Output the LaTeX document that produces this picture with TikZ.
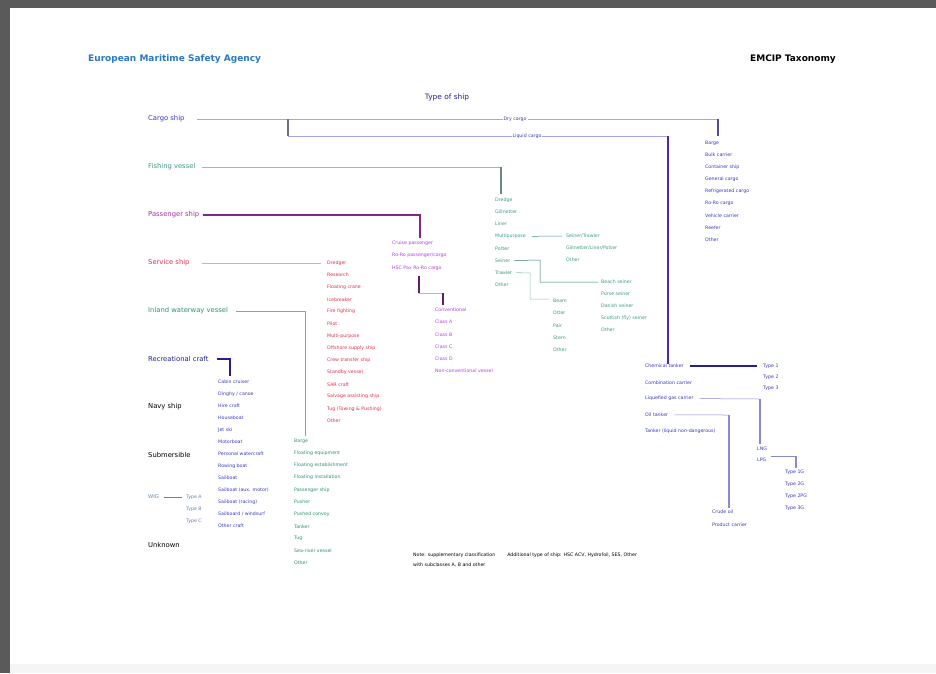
\documentclass[tikz,border=0pt]{standalone}
\usepackage{fontspec}
\setmainfont{DejaVu Sans}
\usetikzlibrary{calc}
\definecolor{agency}{HTML}{2A78C6}
\definecolor{cargo}{HTML}{3A3AC0}
\definecolor{fish}{HTML}{3E9A84}
\definecolor{pax}{HTML}{A032A8}
\definecolor{paxitem}{HTML}{B040E0}
\definecolor{svc}{HTML}{E2304E}
\definecolor{inland}{HTML}{2F9270}
\definecolor{rec}{HTML}{22228A}
\definecolor{wig}{HTML}{6A84A8}
\definecolor{frame}{HTML}{5A5A5A}

\begin{document}
\begin{tikzpicture}[x=1pt,y=-1pt,
  cat/.style={anchor=west,inner sep=0pt,font=\fontsize{6.8}{8}\selectfont},
  item/.style={anchor=west,inner sep=0pt,font=\fontsize{4.7}{5}\selectfont},
  tag/.style={inner sep=1pt,fill=white,font=\fontsize{4.7}{5}\selectfont,text=cargo},
  thin/.style={line width=0.5pt},
  bold/.style={line width=1.1pt}]
  % page and frame
  \useasboundingbox (0,0) rectangle (936,673);
  \fill[white] (0,0) rectangle (936,673);
  \fill[frame] (0,0) rectangle (936,8);
  \fill[frame] (0,0) rectangle (10,673);
  \fill[gray!8] (10,664) rectangle (936,673);

  % header
  \node[anchor=west,inner sep=0pt,font=\fontsize{9}{10}\selectfont\bfseries,agency] (emsa) at (88,59) {European Maritime Safety Agency};
  \node[anchor=east,inner sep=0pt,font=\fontsize{9}{10}\selectfont\bfseries] (tax) at (836,59) {EMCIP Taxonomy};
  \node[inner sep=0pt,font=\fontsize{7.4}{8}\selectfont,rec] (title) at (447,97) {Type of ship};

  % main categories
  \node[cat,cargo] (cargoship) at (148,119) {Cargo ship};
  \node[cat,fish] (fishing) at (148,167) {Fishing vessel};
  \node[cat,pax] (passenger) at (148,215) {Passenger ship};
  \node[cat,svc] (service) at (148,263) {Service ship};
  \node[cat,inland] (inlandw) at (148,311) {Inland waterway vessel};
  \node[cat,rec] (recreational) at (148,359) {Recreational craft};
  \node[cat] (navy) at (148,407) {Navy ship};
  \node[cat] (submersible) at (148,455) {Submersible};
  \node[cat,wig,font=\fontsize{5.2}{6}\selectfont] (wigc) at (148,497) {WIG};
  \node[cat] (unknown) at (148,545) {Unknown};

  % cargo ship
  \foreach \t [count=\i] in {Barge,Bulk carrier,Container ship,General cargo,Refrigerated cargo,Ro-Ro cargo,Vehicle carrier,Reefer,Other}
    \node[item,cargo] (dry\i) at (705,{143+12.1*(\i-1)}) {\t};
  \foreach \t [count=\i] in {Chemical tanker,Combination carrier,Liquefied gas carrier,Oil tanker,Tanker (liquid non-dangerous)}
    \node[item,cargo] (tank\i) at (645,{366+16.3*(\i-1)}) {\t};
  \foreach \t [count=\i] in {Type 1,Type 2,Type 3}
    \node[item,cargo] (chem\i) at (763,{366+11*(\i-1)}) {\t};
  \node[item,cargo] (lng) at (757,449) {LNG};
  \node[item,cargo] (lpg) at (757,460) {LPG};
  \foreach \t [count=\i] in {Type 1G,Type 2G,Type 2PG,Type 3G}
    \node[item,cargo] (gas\i) at (785,{472+12*(\i-1)}) {\t};
  \node[item,cargo] (crude) at (712,512) {Crude oil};
  \node[item,cargo] (product) at (712,525) {Product carrier};

  \coordinate (drybend) at (718,119);
  \coordinate (dryend) at (718,136);
  \coordinate (liqA) at (288,119);
  \coordinate (liqB) at (288,136);
  \coordinate (liqC) at (668,136);
  \draw[thin,cargo!45] (cargoship.east) ++(12,0) -- (drybend);
  \draw[bold,rec!80] (drybend) -- (dryend);
  \draw[bold,gray!80!rec] (liqA) -- (liqB);
  \draw[thin,cargo!45] (liqB) -- (liqC);
  \draw[line width=1.4pt,cargo!70!violet] (liqC) -- (tank1.north -| liqC);
  \node[tag] (drylabel) at (515,119) {Dry cargo};
  \node[tag] (liqlabel) at (527,136) {Liquid cargo};

  \coordinate (lgbend) at (760,399);
  \coordinate (lpgbend) at (796,456);
  \coordinate (oilbend) at (729,415);
  \draw[bold,rec] ([xshift=6pt]tank1.east) -- ([xshift=-6pt]chem1.west);
  \draw[thin,cargo!60] ([xshift=6pt]tank3.east) -- (lgbend);
  \draw[bold,cargo!60] (lgbend) -- ([yshift=3pt]lng.north -| lgbend);
  \draw[thin,cargo!60] ([xshift=4pt]lpg.east |- lpgbend) -- (lpgbend);
  \draw[bold,cargo!60] (lpgbend) -- ([yshift=2pt]gas1.north -| lpgbend);
  \draw[thin,cargo!60] ([xshift=6pt]tank4.east) -- (oilbend);
  \draw[bold,cargo!60] (oilbend) -- ([yshift=2pt]crude.north -| oilbend);

  % fishing vessel
  \foreach \t [count=\i] in {Dredge,Gillnetter,Liner,Multipurpose,Potter,Seiner,Trawler,Other}
    \node[item,fish] (fv\i) at (495,{200+12.1*(\i-1)}) {\t};
  \foreach \t [count=\i] in {Seiner/Trawler,Gillnetter/Liner/Potter,Other}
    \node[item,fish] (mp\i) at (566,{236+12*(\i-1)}) {\t};
  \foreach \t [count=\i] in {Beach seiner,Purse seiner,Danish seiner,Scottish (fly) seiner,Other}
    \node[item,fish] (sn\i) at (601,{282+12*(\i-1)}) {\t};
  \foreach \t [count=\i] in {Beam,Otter,Pair,Stern,Other}
    \node[item,fish] (tw\i) at (553,{301+12.2*(\i-1)}) {\t};

  \coordinate (fishbend) at (501,167);
  \coordinate (seiA) at (540,260);
  \coordinate (seiB) at (540,282);
  \coordinate (trA) at (530,273);
  \coordinate (trB) at (530,299);
  \draw[thin,fish!60] ([xshift=6pt]fishing.east) -- (fishbend);
  \draw[bold,gray!70!fish] (fishbend) -- ([yshift=4pt]fv1.north -| fishbend);
  \draw[thin,fish] ([xshift=6pt]fv4.east) -- ([xshift=-4pt]mp1.west);
  \draw[thin,fish!80!black] ([xshift=4pt]fv6.east) -- (seiA) -- (seiB) -- ([xshift=-3pt]sn1.west);
  \draw[thin,fish!60] ([xshift=4pt]fv7.east) -- (trA) -- (trB) -- ([xshift=-4pt]tw1.west |- trB);

  % passenger ship
  \foreach \t [count=\i] in {Cruise passenger,Ro-Ro passenger/cargo,HSC Pax Ro-Ro cargo}
    \node[item,paxitem] (px\i) at (392,{243+12.5*(\i-1)}) {\t};
  \foreach \t [count=\i] in {Conventional,Class A,Class B,Class C,Class D,Non-conventional vessel}
    \node[item,paxitem] (cls\i) at (435,{310+12.2*(\i-1)}) {\t};

  \coordinate (paxbend) at (420,215);
  \coordinate (clsT) at (419,276);
  \coordinate (clsA) at (419,293);
  \coordinate (clsB) at (443,293);
  \draw[bold,pax!80!black] ([xshift=4pt]passenger.east) -- (paxbend) -- ([yshift=3pt]px1.north -| paxbend);
  \draw[bold,pax!60!black] (clsT) -- (clsA);
  \draw[thin,paxitem!50] (clsA) -- (clsB);
  \draw[bold,pax!60!black] (clsB) -- ([yshift=3pt]cls1.north -| clsB);

  % service ship
  \foreach \t [count=\i] in {Dredger,Research,Floating crane,Icebreaker,Fire fighting,Pilot,Multi-purpose,Offshore supply ship,Crew transfer ship,Standby vessel,SAR craft,Salvage assisting ship,Tug (Towing \& Pushing),Other}
    \node[item,svc] (sv\i) at (327,{263+12.15*(\i-1)}) {\t};
  \draw[thin,svc!45] ([xshift=12pt]service.east) -- ([xshift=-6pt]sv1.west);

  % inland waterway vessel
  \foreach \t [count=\i] in {Barge,Floating equipment,Floating establishment,Floating installation,Passenger ship,Pusher,Pushed convoy,Tanker,Tug,Sea-river vessel,Other}
    \node[item,inland] (iw\i) at (294,{441+12.2*(\i-1)}) {\t};
  \coordinate (inlbend) at (305,311);
  \draw[thin,inland!70] ([xshift=8pt]inlandw.east) -- (inlbend) -- ([yshift=3pt]iw1.north -| inlbend);

  % recreational craft
  \foreach \t [count=\i] in {Cabin cruiser,Dinghy / canoe,Hire craft,Houseboat,Jet ski,Motorboat,Personal watercraft,Rowing boat,Sailboat,Sailboat (aux. motor),Sailboat (racing),Sailboard / windsurf,Other craft}
    \node[item,cargo] (rc\i) at (218,{382+12*(\i-1)}) {\t};
  \coordinate (recbend) at (230,359);
  \draw[bold,rec] ([xshift=8pt]recreational.east) -- (recbend) -- ([yshift=4pt]rc1.north -| recbend);

  % WIG
  \foreach \t [count=\i] in {Type A,Type B,Type C}
    \node[item,wig] (wt\i) at (186,{497+12*(\i-1)}) {\t};
  \draw[thin,wig] ([xshift=5pt]wigc.east) -- ([xshift=-4pt]wt1.west);

  % note
  \node[anchor=north west,inner sep=0pt,align=left,font=\fontsize{4.7}{9.5}\selectfont] (note) at (413,553)
    {Note: supplementary classification\hspace{12pt}Additional type of ship: HSC ACV, Hydrofoil, SES, Other\\with subclasses A, B and other};
\end{tikzpicture}
\end{document}
